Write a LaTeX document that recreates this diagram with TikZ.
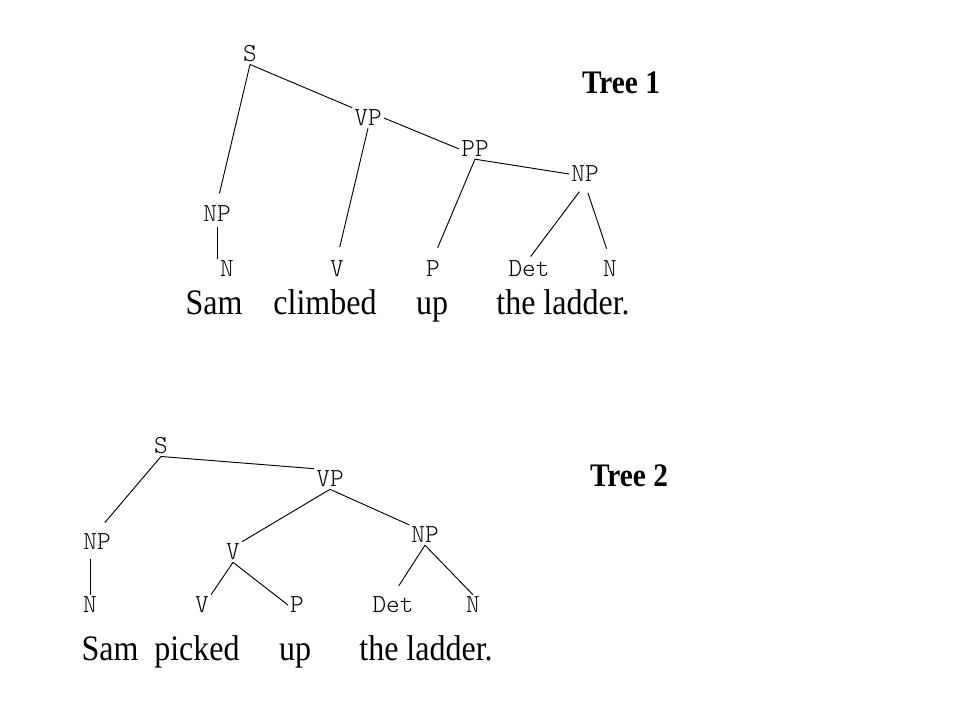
\documentclass[tikz,border=0pt]{standalone}
\usepackage{fontspec}
\setmainfont{Liberation Serif}
\newfontfamily\catfont{Latin Modern Mono Light}
\newcommand\tall[1]{\scalebox{1}[1.12]{#1}}
\tikzset{
  cat/.style={font=\catfont\fontsize{19.5}{19.5}\selectfont, inner sep=1.5pt},
  word/.style={font=\fontsize{24}{24}\selectfont, anchor=base, inner sep=0pt},
  title/.style={font=\bfseries\fontsize{22}{22}\selectfont, inner sep=0pt},
  branch/.style={line width=0.7pt}
}
\begin{document}
\begin{tikzpicture}[x=0.75pt,y=-0.75pt]
\useasboundingbox (0,0) rectangle (960,720);
% Tree 1
\node[cat] (s1) at (250,54) {S};
\node[cat] (vp1) at (368,118) {VP};
\node[cat] (pp1) at (475,149) {PP};
\node[cat] (npb1) at (585,174) {NP};
\node[cat] (npa1) at (217,214) {NP};
\node[cat] (na1) at (227,269) {N};
\node[cat] (v1) at (337,269) {V};
\node[cat] (p1) at (433,269) {P};
\node[cat] (det1) at (529,269) {Det};
\node[cat] (nb1) at (610,269) {N};
\node[word] (w11) at (214,315) {\tall{Sam}};
\node[word] (w12) at (325,315) {\tall{climbed}};
\node[word] (w13) at (432,315) {\tall{up}};
\node[word] (w14) at (563,315) {\tall{the ladder.}};
\node[title] (t1) at (621,83) {\tall{Tree 1}};
\draw[branch, shorten >=8pt] (s1.south) -- (npa1.north);
\draw[branch] (s1.south) -- (vp1.north west);
\draw[branch, shorten >=9pt] (vp1.south) -- (v1.north);
\draw[branch] (vp1.east) -- (pp1.west);
\draw[branch, shorten >=9pt] (pp1.south) -- (p1.north);
\draw[branch] (pp1.south) -- (npb1.west);
\draw[branch, shorten <=7pt, shorten >=2pt] (npb1.south) -- (det1.north);
\draw[branch, shorten <=7pt, shorten >=8pt] (npb1.south) -- (nb1.north);
\draw[branch, shorten <=2pt] (npa1.south) -- (npa1.south |- na1.north);
% Tree 2
\node[cat] (s2) at (161,446) {S};
\node[cat] (vp2) at (330,479) {VP};
\node[cat] (npc2) at (97,542) {NP};
\node[cat] (vm2) at (233,552) {V};
\node[cat] (npd2) at (425,535) {NP};
\node[cat] (nc2) at (90,605) {N};
\node[cat] (v2) at (202,605) {V};
\node[cat] (p2) at (297,605) {P};
\node[cat] (det2) at (393,605) {Det};
\node[cat] (nd2) at (473,605) {N};
\node[word] (w21) at (110,660) {\tall{Sam}};
\node[word] (w22) at (197,660) {\tall{picked}};
\node[word] (w23) at (295,660) {\tall{up}};
\node[word] (w24) at (426,660) {\tall{the ladder.}};
\node[title] (t2) at (629,476) {\tall{Tree 2}};
\draw[branch, shorten >=9pt] (s2.south) -- (npc2.north);
\draw[branch] (s2.south) -- (vp2.north west);
\draw[branch] (vp2.south) -- (vm2.north east);
\draw[branch] (vp2.south) -- (npd2.north west);
\draw[branch, shorten <=5pt] (nc2.north |- npc2.south) -- (nc2.north);
\draw[branch] (vm2.south) -- (v2.north east);
\draw[branch] (vm2.south) -- (p2.west);
\draw[branch, shorten >=8pt] (npd2.south) -- (det2.north);
\draw[branch] (npd2.south) -- (nd2.north);
\end{tikzpicture}
\end{document}
